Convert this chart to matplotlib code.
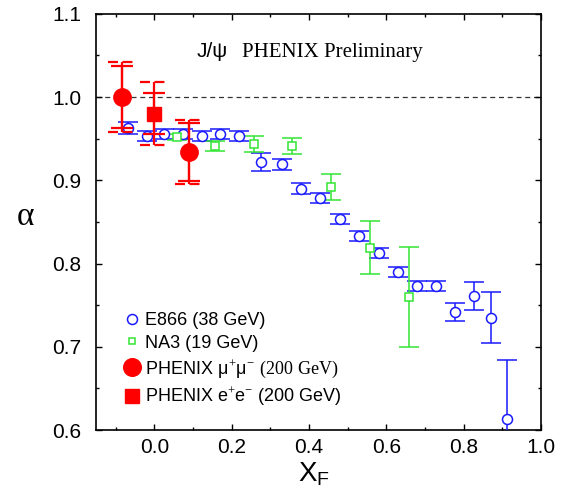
import matplotlib
matplotlib.use('Agg')
import matplotlib.pyplot as plt
from matplotlib.lines import Line2D
from matplotlib.ticker import MultipleLocator, FormatStrFormatter
import numpy as np

plt.rcParams['font.family'] = ['Liberation Sans', 'DejaVu Sans']
plt.rcParams['mathtext.fontset'] = 'custom'
plt.rcParams['mathtext.rm'] = 'Liberation Serif'
plt.rcParams['mathtext.it'] = 'Liberation Sans'
plt.rcParams['mathtext.bf'] = 'Liberation Sans:bold'

# ---- data ----
e866_x = [-0.067, -0.019, 0.026, 0.073, 0.123, 0.170, 0.220, 0.276, 0.330, 0.380,
          0.429, 0.479, 0.529, 0.581, 0.630, 0.680, 0.728, 0.778, 0.826, 0.871, 0.911]
e866_y = [0.963, 0.953, 0.956, 0.956, 0.953, 0.956, 0.953, 0.922, 0.919, 0.890,
          0.879, 0.853, 0.833, 0.813, 0.790, 0.773, 0.773, 0.742, 0.761, 0.735, 0.613]
e866_err = [0.007, 0.006, 0.006, 0.006, 0.006, 0.006, 0.006, 0.011, 0.007, 0.007,
            0.006, 0.006, 0.006, 0.006, 0.006, 0.006, 0.006, 0.0105, 0.0165, 0.031, 0.071]

na3_x = [0.058, 0.157, 0.257, 0.357, 0.458, 0.557, 0.658]
na3_y = [0.952, 0.941, 0.944, 0.941, 0.892, 0.819, 0.760]
na3_err = [0.004, 0.006, 0.0096, 0.010, 0.016, 0.032, 0.060]

mumu_x = [-0.084, 0.089]
mumu_y = [1.000, 0.934]
mumu_stat = [0.037, 0.035]
mumu_sys = [0.042, 0.0385]

ee_x = [0.0]
ee_y = [0.980]
ee_stat = [0.0245]
ee_sys = [0.0375]

xticks = [0.0, 0.2, 0.4, 0.6, 0.8, 1.0]
yticks = [0.6, 0.7, 0.8, 0.9, 1.0, 1.1]
legend_labels = ['E866 (38 GeV)', 'NA3 (19 GeV)',
                 r'PHENIX $\mu^{+}\mu^{-}$ $\mathrm{(200\ GeV)}$',
                 r'PHENIX e$^{+}$e$^{-}$ (200 GeV)']

BLUE = '#1a1aff'
GREEN = '#33e633'
RED = '#ff0000'

fig = plt.figure(figsize=(5.69, 4.95), dpi=100)
ax = fig.add_axes([0.1694, 0.1313, 0.7814, 0.8408])

ax.axhline(1.0, color='#333333', lw=0.9, ls=(0, (4, 3)), zorder=1)

ax.errorbar(e866_x, e866_y, yerr=e866_err, fmt='o', ms=7.2, mfc='white', mec=BLUE,
            mew=1.1, ecolor=BLUE, elinewidth=1.1, capsize=7.2, capthick=1.1, zorder=3)
ax.errorbar(na3_x, na3_y, yerr=na3_err, fmt='s', ms=5.3, mfc='white', mec=GREEN,
            mew=1.1, ecolor=GREEN, elinewidth=1.1, capsize=7.2, capthick=1.1, zorder=3)

hw = 0.036  # half width of dashed syst caps (data units)
for xs, ys, st, sy in [(mumu_x, mumu_y, mumu_stat, mumu_sys), (ee_x, ee_y, ee_stat, ee_sys)]:
    xs = np.array(xs); ys = np.array(ys); st = np.array(st); sy = np.array(sy)
    ax.vlines(xs, ys - sy, ys + sy, color=RED, lw=1.6, zorder=4)
    ax.errorbar(xs, ys, yerr=st, fmt='none', ecolor=RED, elinewidth=1.6,
                capsize=8, capthick=1.6, zorder=4)
    ax.hlines(np.concatenate([ys + sy, ys - sy]), np.concatenate([xs - hw, xs - hw]),
              np.concatenate([xs + hw, xs + hw]), color=RED, lw=1.6,
              linestyles=[(0, (4.5, 2))], zorder=4)

ax.plot(mumu_x, mumu_y, 'o', ms=12.5, color=RED, ls='none', zorder=5)
ax.plot(ee_x, ee_y, 's', ms=10, color=RED, ls='none', zorder=5)

handles = [
    Line2D([], [], ls='none', marker='o', ms=7.2, mfc='white', mec=BLUE, mew=1.1),
    Line2D([], [], ls='none', marker='s', ms=5, mfc='white', mec=GREEN, mew=1.1),
    Line2D([], [], ls='none', marker='o', ms=12.7, color=RED),
    Line2D([], [], ls='none', marker='s', ms=10.5, color=RED),
]
ax.legend(handles, legend_labels, loc='lower left', bbox_to_anchor=(0.06, 0.052),
          frameon=False, fontsize=13, handlelength=1.0, handletextpad=0.2,
          labelspacing=0.3, borderpad=0, borderaxespad=0)

ax.set_xlim(-0.15, 1.0)
ax.set_ylim(0.6, 1.1)
ax.set_xticks(xticks)
ax.set_yticks(yticks)
ax.xaxis.set_major_formatter(FormatStrFormatter('%.1f'))
ax.yaxis.set_major_formatter(FormatStrFormatter('%.1f'))
ax.xaxis.set_minor_locator(MultipleLocator(0.1))
ax.yaxis.set_minor_locator(MultipleLocator(0.05))
ax.tick_params(which='both', direction='in', top=True, right=True, width=1)
ax.tick_params(which='major', length=4)
ax.tick_params(which='minor', length=2.2)
ax.tick_params(axis='x', labelsize=15, pad=6)
ax.tick_params(axis='y', labelsize=15, pad=11)
for s in ax.spines.values():
    s.set_linewidth(1.2)

fig.text(197/569, 0.8855, 'J/\u03c8', fontsize=15, family=['Liberation Sans', 'DejaVu Sans'], va='baseline')
fig.text(241.7/569, 0.8855, 'PHENIX Preliminary', fontsize=15, family='Liberation Serif', va='baseline')

fig.text(314/569, 0.027, r'X$_{\mathregular{F}}$', fontsize=20, ha='center', va='baseline')
fig.text(25/569, 0.545, '\u03b1', fontsize=24, family='Liberation Serif', ha='center', va='baseline')

fig.savefig('out.png', dpi=100, facecolor='white')
